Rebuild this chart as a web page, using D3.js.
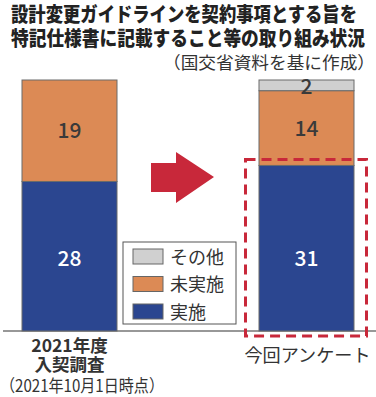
<!DOCTYPE html>
<html>
<head>
<meta charset="utf-8">
<script src="https://cdn.jsdelivr.net/npm/d3@7"></script>
<style>
  html, body { margin: 0; padding: 0; background: #fff; }
  svg { display: block; }
  text { font-family: "Noto Sans CJK JP", "Noto Sans", sans-serif; }
</style>
</head>
<body>
<svg id="chart"></svg>
<script>
/* 設計変更ガイドライン 取り組み状況 · stacked bars (2021年度 vs 今回アンケート) */
const categories = ["2021年度", "今回アンケート"];
const seriesNames = ["実施", "未実施", "その他"];
const implemented = [28, 31];
const notImplemented = [19, 14];
const other = [0, 2];
const legendOrder = ["その他", "未実施", "実施"];

const COLORS = { "実施": "#2b4690", "未実施": "#dc8a55", "その他": "#d0d0d0" };
const LABEL_FILL = { "実施": "#fff", "未実施": "#3a3a3a", "その他": "#3a3a3a" };
const RED = "#c8283a";

(function () {
    const W = 376, H = 397;
    const svg = d3.select("#chart").attr("width", W).attr("height", H)
        .attr("viewBox", `0 0 ${W} ${H}`);

    // Title
    svg.append("text").attr("x", 11).attr("y", 22)
        .attr("font-size", 20).attr("font-weight", 900).attr("fill", "#222")
        .attr("textLength", 346).attr("lengthAdjust", "spacingAndGlyphs")
        .text("設計変更ガイドラインを契約事項とする旨を");
    svg.append("text").attr("x", 11).attr("y", 46)
        .attr("font-size", 20).attr("font-weight", 900).attr("fill", "#222")
        .attr("textLength", 354).attr("lengthAdjust", "spacingAndGlyphs")
        .text("特記仕様書に記載すること等の取り組み状況");
    svg.append("text").attr("x", 163).attr("y", 69)
        .attr("font-size", 17).attr("fill", "#333")
        .attr("textLength", 212).attr("lengthAdjust", "spacingAndGlyphs")
        .text("（国交省資料を基に作成）");

    // Scales
    const x = d3.scalePoint().domain(categories).range([69.5, 306.5]);
    const barW = 95;
    const y = d3.scaleLinear().domain([0, 47]).range([331, 80]);

    const rows = categories.map((c, i) => ({
        cat: c, "実施": implemented[i], "未実施": notImplemented[i], "その他": other[i]
    }));
    const stack = d3.stack().keys(seriesNames)(rows);

    // Baseline
    svg.append("line").attr("x1", 3).attr("x2", W).attr("y1", y(0)).attr("y2", y(0))
        .attr("stroke", "#333").attr("stroke-width", 1.2);

    // Bars
    const g = svg.append("g");
    stack.forEach(layer => {
        const key = layer.key;
        g.selectAll(null).data(layer.filter(d => d[1] - d[0] > 0)).join("rect")
            .attr("x", d => x(d.data.cat) - barW / 2)
            .attr("y", d => y(d[1]))
            .attr("width", barW)
            .attr("height", d => y(d[0]) - y(d[1]))
            .attr("fill", COLORS[key])
            .attr("stroke", "#6a6a6a").attr("stroke-width", 1);
    });

    // Value labels
    stack.forEach(layer => {
        const key = layer.key;
        g.selectAll(null).data(layer.filter(d => d[1] - d[0] > 0)).join("text")
            .attr("x", d => x(d.data.cat))
            .attr("y", d => key === "実施" ? y(d[0] + 13.5) : y((d[0] + d[1]) / 2) + (key === "その他" ? 1.5 : 0))
            .attr("dy", "0.36em")
            .attr("text-anchor", "middle")
            .attr("font-family", "'Noto Sans', sans-serif")
            .attr("font-size", 21).attr("font-weight", 500)
            .attr("fill", LABEL_FILL[key])
            .text(d => d[1] - d[0]);
    });

    // Dashed highlight around 今回 実施
    const xc = x(categories[1]);
    svg.append("rect")
        .attr("x", xc - 61).attr("y", y(implemented[1]) - 6)
        .attr("width", 121).attr("height", y(0) + 5 - (y(implemented[1]) - 6))
        .attr("fill", "none").attr("stroke", RED).attr("stroke-width", 3)
        .attr("stroke-dasharray", "10,6");

    // Arrow
    svg.append("path")
        .attr("d", "M151,163 L176,163 L176,152 L214,177 L176,203 L176,192 L151,192 Z")
        .attr("fill", RED);

    // Legend
    const lg = svg.append("g").attr("transform", "translate(123, 242)");
    lg.append("rect").attr("width", 113).attr("height", 82)
        .attr("fill", "#fff").attr("stroke", "#555").attr("stroke-width", 1);
    legendOrder.forEach((k, i) => {
        lg.append("rect").attr("x", 10).attr("y", 7 + i * 27.5)
            .attr("width", 30).attr("height", 15)
            .attr("fill", COLORS[k]).attr("stroke", "#666").attr("stroke-width", 1);
        lg.append("text").attr("x", 47).attr("y", 21.5 + i * 27.5)
            .attr("font-size", 18).attr("fill", "#333").text(k);
    });

    // Category labels
    const x0 = x(categories[0]);
    svg.append("text").attr("x", x0).attr("y", 352).attr("text-anchor", "middle")
        .attr("font-size", 17.5).attr("font-weight", 700).attr("fill", "#333")
        .text("2021年度");
    svg.append("text").attr("x", x0).attr("y", 371).attr("text-anchor", "middle")
        .attr("font-size", 17.5).attr("font-weight", 700).attr("fill", "#333")
        .text("入契調査");
    svg.append("text").attr("x", 0).attr("y", 392)
        .attr("font-size", 17).attr("fill", "#333")
        .attr("textLength", 164).attr("lengthAdjust", "spacingAndGlyphs")
        .text("（2021年10月1日時点）");
    svg.append("text").attr("x", xc + 1).attr("y", 362).attr("text-anchor", "middle")
        .attr("font-size", 18).attr("fill", "#333")
        .attr("textLength", 126).attr("lengthAdjust", "spacingAndGlyphs")
        .text("今回アンケート");
})();
</script>
</body>
</html>
